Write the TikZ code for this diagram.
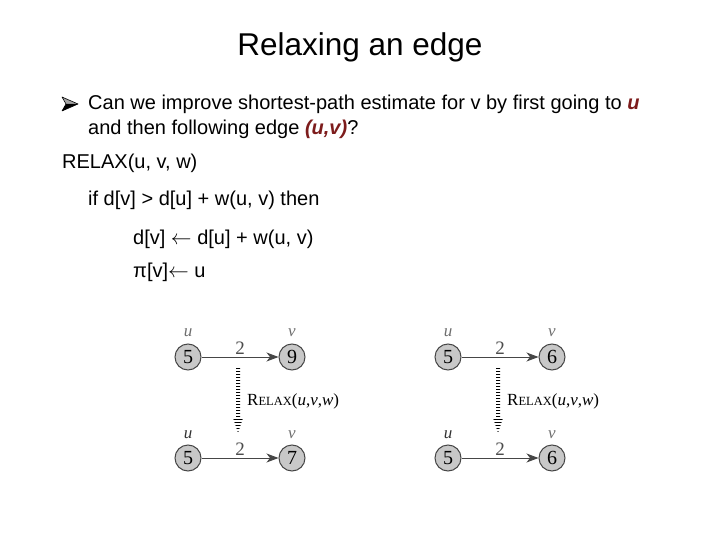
\documentclass[tikz,border=0pt]{standalone}
\usepackage{fontspec}
\setmainfont{Liberation Sans}
\newfontfamily\serif{Liberation Serif}
\usetikzlibrary{arrows.meta}
\definecolor{dred}{RGB}{125,28,28}
\definecolor{nodefill}{RGB}{200,200,200}
\definecolor{nodeedge}{RGB}{70,70,70}
\definecolor{lblgray}{RGB}{110,110,110}
\tikzset{
  txt/.style={anchor=base west, inner sep=0pt, font=\fontsize{20}{22}\selectfont},
  vert/.style={circle, draw=nodeedge, line width=1pt, fill=nodefill, minimum size=26pt, inner sep=0pt, font=\serif\fontsize{20}{20}\selectfont},
  vlbl/.style={inner sep=0pt, text=lblgray, font=\serif\itshape\fontsize{17}{17}\selectfont},
  wlbl/.style={inner sep=0pt, text=black!70, font=\serif\fontsize{19}{19}\selectfont},
  gedge/.style={draw=nodeedge, line width=1pt, -{Stealth[length=12pt,width=9pt,inset=3.5pt]}},
  rlbl/.style={anchor=west, inner sep=0pt, font=\serif\fontsize{17}{17}\selectfont},
}
\newcommand{\relaxlbl}{R{\fontsize{12.5}{12.5}\selectfont ELAX}(\textit{u},\textit{v},\textit{w})}
\newcommand{\hl}[1]{\textcolor{dred}{\textbf{\textit{#1}}}}
\begin{document}
\begin{tikzpicture}[x=1pt,y=-1pt]
\useasboundingbox (0,0) rectangle (720,540);
% title
\node[anchor=base, inner sep=0pt, font=\fontsize{31.5}{34}\selectfont] (title) at (360,56) {Relaxing an edge};
% bullet
\fill[gray!70] (62,97) -- (78,104) -- (66,104) -- cycle;
\fill[black] (66,104) -- (78,104) -- (62,111) -- cycle;
\draw[black, line width=0.6pt, line join=round] (62,97) -- (78,104) -- (62,111) -- (66,104) -- cycle;
\node[txt] (l1) at (88,110) {Can we improve shortest-path estimate for v by first going to \hl{u}};
\node[txt] (l2) at (88,135) {and then following edge \hl{(u,v)}?};
\node[txt] (c1) at (62,169) {RELAX(u, v, w)};
\node[txt] (c2) at (88,206) {if d[v] > d[u] + w(u, v) then};
\node[txt] (c3) at (133,244) {d[v] $\leftarrow$ d[u] + w(u, v)};
\node[txt] (c4) at (133,277) {π[v]$\leftarrow$ u};
% graphs
\foreach \ox/\nm/\a/\b/\c/\d in {188/L/5/9/5/7, 448/R/5/6/5/6}{
  \begin{scope}[shift={(\ox,0)}]
    \node[vert] (\nm u1) at (0,357) {\a};
    \node[vert] (\nm v1) at (104,357) {\b};
    \node[vert] (\nm u2) at (0,458) {\c};
    \node[vert] (\nm v2) at (104,458) {\d};
    \node[vlbl] (\nm lu1) at (0,333) {u};
    \node[vlbl] (\nm lv1) at (104,333) {v};
    \node[vlbl, text=black!80] (\nm lu2) at (0,435) {u};
    \node[vlbl] (\nm lv2) at (104,435) {v};
    \draw[gedge] (\nm u1) -- (\nm v1) node[wlbl, midway, above=2pt] {2};
    \draw[gedge] (\nm u2) -- (\nm v2) node[wlbl, midway, above=2pt] {2};
    \coordinate (\nm s) at (50,368);
    \coordinate (\nm e) at (50,433);
    \begin{scope}
      \clip (44,368) rectangle (56,434);
      \fill[black] (48,368) -- (52,368) -- (52,418) -- (55,418) -- (\nm e) -- (45,418) -- (48,418) -- cycle;
      \foreach \yy in {370,373,...,434} \draw[white, line width=1.2pt] (43,\yy) -- (57,\yy);
    \end{scope}
    \node[rlbl] (\nm rl) at (59,401) {\relaxlbl};
  \end{scope}
}
\end{tikzpicture}
\end{document}
